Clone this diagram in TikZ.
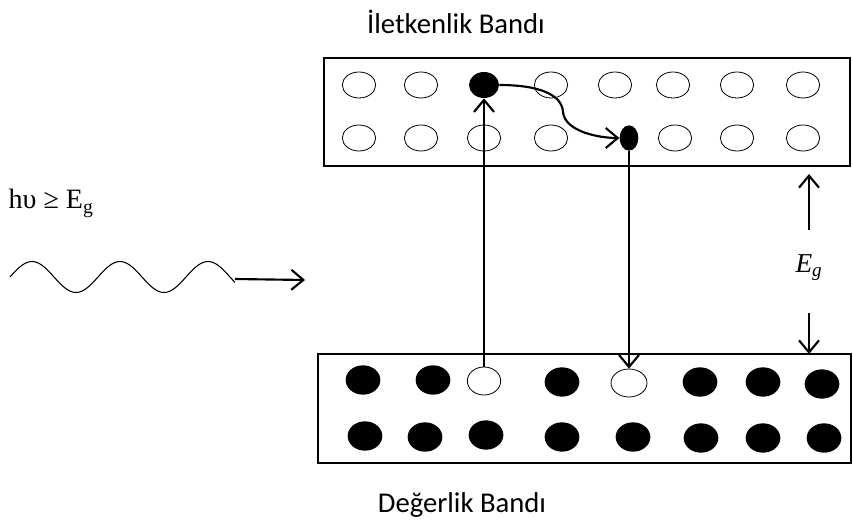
\documentclass[tikz,border=0pt]{standalone}
\usepackage{fontspec}
\setmainfont{Carlito}
\newfontfamily\cambria{Liberation Serif}
\usetikzlibrary{arrows.meta,shapes.geometric}

\tikzset{
  bos/.style={ellipse, draw, line width=0.6pt, inner sep=0pt, minimum width=25pt, minimum height=19.5pt},
  bosalt/.style={ellipse, draw, line width=0.6pt, inner sep=0pt, minimum width=25pt, minimum height=21pt},
  dolu/.style={ellipse, fill=black, inner sep=0pt, minimum width=26pt, minimum height=22pt},
  bant/.style={line width=2.2pt},
  ok/.style={line width=1.6pt, -{Straight Barb[length=9pt,width=15pt]}}
}

\begin{document}
\begin{tikzpicture}[x=0.75pt,y=-0.75pt]
 \useasboundingbox (0,0) rectangle (853,524);
 % bantlar
 \draw[bant] (324,58) rectangle (850,166); %iletkenlik bandi
 \draw[bant] (318,354) rectangle (851,463); %degerlik bandi
 \node[font=\fontsize{21.5}{25}\selectfont] (ib) at (456,22) {İletkenlik Bandı};
 \node[font=\fontsize{21.5}{25}\selectfont] (db) at (462,505) {Değerlik Bandı};
 % iletkenlik bandi, ust sira
 \node[bos] (c1) at (359,85) {};
 \node[bos] (c2) at (421,85) {};
 \node[ellipse, fill=black, inner sep=0pt, minimum width=22.5pt, minimum height=19.5pt] (c3) at (484,85) {}; %uyarilan elektron
 \node[bos] (c4) at (551,85) {};
 \node[bos] (c5) at (615,85) {};
 \node[bos] (c6) at (673,85) {};
 \node[bos] (c7) at (737,85) {};
 \node[bos] (c8) at (803,85) {};
 % iletkenlik bandi, alt sira
 \node[bos] (d1) at (359,138) {};
 \node[bos] (d2) at (421,138) {};
 \node[bos] (d3) at (484,138) {};
 \node[bos] (d4) at (551,138) {};
 \node[ellipse, fill=black, inner sep=0pt, minimum width=14pt, minimum height=19pt] (e2) at (629,138) {}; %durulan elektron
 \node[bos] (d6) at (675,138) {};
 \node[bos] (d7) at (737,138) {};
 \node[bos] (d8) at (803,138) {};
 % degerlik bandi, ust sira
 \node[dolu] (v1) at (363,380) {};
 \node[dolu] (v2) at (433,380) {};
 \node[bosalt] (v3) at (484,381) {}; %bosluk
 \node[dolu] (v4) at (562,382) {};
 \node[bosalt, minimum width=27pt] (v5) at (629,383) {}; %bosluk
 \node[dolu] (v6) at (700,382) {};
 \node[dolu] (v7) at (763,382) {};
 \node[dolu] (v8) at (822,384) {};
 % degerlik bandi, alt sira
 \node[dolu] (w1) at (365,436) {};
 \node[dolu] (w2) at (425,437) {};
 \node[dolu] (w3) at (486,435) {};
 \node[dolu] (w4) at (562,437) {};
 \node[dolu] (w5) at (633,437) {};
 \node[dolu] (w6) at (701,438) {};
 \node[dolu] (w7) at (763,438) {};
 \node[dolu] (w8) at (824,438) {};
 % gecisler
 \draw[ok] (v3.north) -- (c3.south); %sogurma
 \draw[ok] (c3.east) .. controls (540,85) and (562,95) .. (563,112) .. controls (565,132) and (600,138) .. (e2.west); %durulma
 \draw[ok] (e2.south) -- (v5.north); %yeniden birlesme
 % foton
 \draw[line width=0.8pt] plot[domain=10:235, samples=120, smooth] (\x, {277-15.5*sin(4.0909*(\x-10))});
 \coordinate (F1) at (235,279);
 \coordinate (F2) at (305,280);
 \draw[ok] (F1) -- (F2);
 \node[anchor=base west, font=\cambria\fontsize{21}{25}\selectfont] (hv) at (4,209) {hυ ≥ E\textsubscript{g}};
 % bant araligi
 \coordinate (G1) at (809,230);
 \coordinate (G2) at (809,174);
 \coordinate (G3) at (809,313);
 \coordinate (G4) at (809,354);
 \draw[ok] (G1) -- (G2);
 \draw[ok] (G3) -- (G4);
 \node[font=\cambria\itshape\fontsize{20.5}{24}\selectfont] (eg) at (809,268) {E\textsubscript{\itshape g}};
\end{tikzpicture}
\end{document}
